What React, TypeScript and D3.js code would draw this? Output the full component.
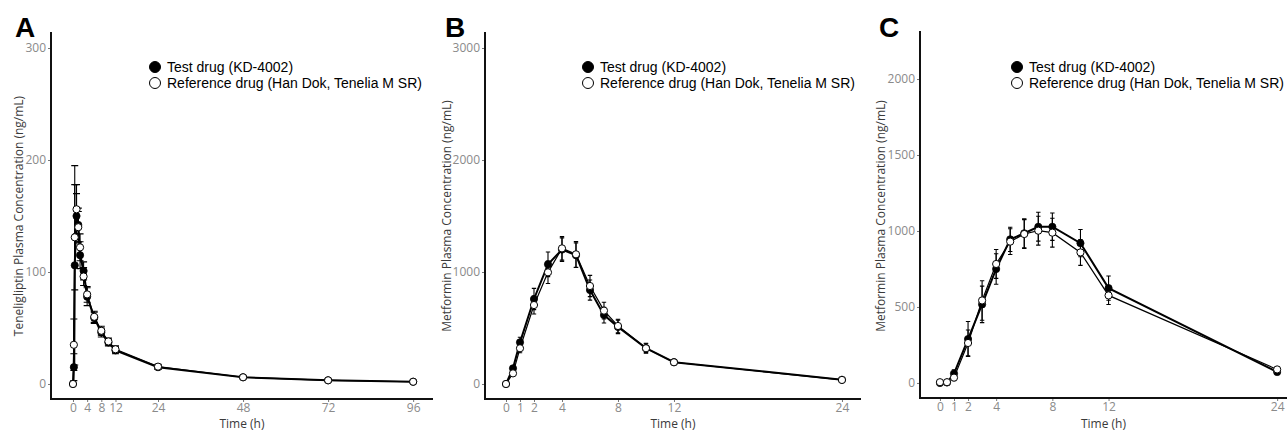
import { useEffect, useRef } from 'react'
import * as d3 from 'd3'

// ── Panel A: teneligliptin ──
const aTime = [0, 0.25, 0.5, 1, 1.5, 2, 3, 4, 6, 8, 10, 12, 24, 48, 72, 96]
const aTest = [0, 15, 106, 150, 142, 115, 101, 78, 59, 46, 37, 30, 15, 6, 3.3, 2]
const aTestSd = [0, 12, 89, 20, 15, 12, 8, 8, 5, 4, 3, 3, 2, 1, 0.8, 0.5]
const aRef = [0, 35, 131, 156, 140, 122, 96, 80, 60, 47.5, 38, 31, 15.5, 6, 3.3, 2]
const aRefSd = [0, 23, 47, 22, 14, 12, 8, 7, 5, 4, 3, 3, 2, 1, 0.8, 0.5]
const aXTicks = [0, 4, 8, 12, 24, 48, 72, 96]
const aYTicks = [0, 100, 200, 300]

// ── Panel B: metformin ──
const bTime = [0, 0.5, 1, 2, 3, 4, 5, 6, 7, 8, 10, 12, 24]
const bTest = [0, 140, 372, 759, 1069, 1200, 1150, 839, 615, 510, 320, 195, 38]
const bTestSd = [0, 20, 45, 95, 110, 105, 110, 90, 70, 60, 40, 20, 8]
const bRef = [0, 95, 319, 705, 997, 1211, 1158, 875, 655, 518, 319, 194, 36]
const bRefSd = [0, 15, 40, 80, 100, 105, 115, 95, 75, 60, 45, 20, 8]
const bXTicks = [0, 1, 2, 4, 8, 12, 24]
const bYTicks = [0, 1000, 2000, 3000]

// ── Panel C: metformin ──
const cTime = [0, 0.5, 1, 2, 3, 4, 5, 6, 7, 8, 10, 12, 24]
const cTest = [0, 3, 62, 289, 517, 750, 945, 985, 1028, 1028, 920, 624, 72]
const cTestSd = [0, 3, 25, 115, 120, 100, 80, 95, 95, 90, 90, 80, 15]
const cRef = [5, 5, 35, 263, 543, 783, 930, 980, 1002, 989, 859, 576, 89]
const cRefSd = [0, 3, 20, 85, 130, 95, 85, 95, 95, 95, 85, 60, 15]
const cXTicks = [0, 1, 2, 4, 8, 12, 24]
const cYTicks = [0, 500, 1000, 1500, 2000]

const legendTest = 'Test drug (KD-4002)'
const legendRef = 'Reference drug (Han Dok, Tenelia M SR)'

const panels = [
  { letter: 'A', ylab: 'Teneligliptin Plasma Concentration (ng/mL)', time: aTime, test: aTest, testSd: aTestSd, ref: aRef, refSd: aRefSd,
    xTicks: aXTicks, yTicks: aYTicks, xDom: [-6.2, 101.6], yDom: [-13.4, 314.3],
    box: { l: 51, r: 433, t: 32, b: 399 }, cap: 3.5, letterX: 15, ylabX: 19, legX: 155 },
  { letter: 'B', ylab: 'Metformin Plasma Concentration (ng/mL)', time: bTime, test: bTest, testSd: bTestSd, ref: bRef, refSd: bRefSd,
    xTicks: bXTicks, yTicks: bYTicks, xDom: [-1.5, 25.36], yDom: [-134, 3143],
    box: { l: 485, r: 861, t: 32, b: 399 }, cap: 2.2, letterX: 445, ylabX: 447, legX: 588 },
  { letter: 'C', ylab: 'Metformin Plasma Concentration (ng/mL)', time: cTime, test: cTest, testSd: cTestSd, ref: cRef, refSd: cRefSd,
    xTicks: cXTicks, yTicks: cYTicks, xDom: [-1.42, 24.7], yDom: [-99, 2316],
    box: { l: 920, r: 1287, t: 31, b: 398 }, cap: 2.2, letterX: 879, ylabX: 881, legX: 1017 },
]

const W = 1287, H = 430
const TICK_FONT = '"Open Sans", sans-serif'
const LEG_FONT = '"Liberation Sans", Arial, sans-serif'

export default function App() {
  const svgRef = useRef<SVGSVGElement>(null)

  useEffect(() => {
    const svg = d3.select(svgRef.current)
    svg.selectAll('*').remove()
    svg.append('rect').attr('width', W).attr('height', H).attr('fill', '#fff')

    for (const p of panels) {
      const { box } = p
      const x = d3.scaleLinear().domain(p.xDom).range([box.l, box.r])
      const y = d3.scaleLinear().domain(p.yDom).range([box.b, box.t])
      const g = svg.append('g')

      // axes (ticks + labels)
      g.append('g').attr('transform', `translate(${box.l},0)`)
        .call(d3.axisLeft(y).tickValues(p.yTicks).tickSize(3).tickPadding(2).tickFormat(d3.format('d')))
        .call(a => {
          a.select('.domain').remove()
          a.selectAll('.tick line').attr('stroke', '#777')
          a.selectAll('.tick text').attr('fill', '#8a8a8a').attr('font-size', 12).attr('font-family', TICK_FONT)
        })
      g.append('g').attr('transform', `translate(0,${box.b})`)
        .call(d3.axisBottom(x).tickValues(p.xTicks).tickSize(3).tickPadding(1).tickFormat(d3.format('d')))
        .call(a => {
          a.select('.domain').remove()
          a.selectAll('.tick line').attr('stroke', '#777')
          a.selectAll('.tick text').attr('fill', '#8a8a8a').attr('font-size', 12).attr('font-family', TICK_FONT)
        })
      // L-shaped frame
      g.append('path').attr('d', `M${box.l},${box.t}V${box.b}H${box.r}`)
        .attr('fill', 'none').attr('stroke', '#111').attr('stroke-width', 2)

      // titles
      g.append('text').attr('x', (box.l + box.r) / 2).attr('y', 427.5).attr('text-anchor', 'middle')
        .attr('font-family', TICK_FONT).attr('font-size', 12).attr('fill', '#3a3a3a').text('Time (h)')
      g.append('text').attr('transform', `translate(${p.ylabX},216) rotate(-90)`).attr('text-anchor', 'middle')
        .attr('dy', '0.35em').attr('font-family', TICK_FONT).attr('font-size', 12).attr('fill', '#3a3a3a').text(p.ylab)
      g.append('text').attr('x', p.letterX).attr('y', 37).attr('font-family', LEG_FONT).attr('font-weight', 700)
        .attr('font-size', 28).attr('fill', '#000').text(p.letter)

      // legend
      const leg = g.append('g')
      ;[[legendTest, '#000', 67], [legendRef, '#fff', 83]].forEach(([label, fill, ly]) => {
        leg.append('circle').attr('cx', p.legX).attr('cy', ly as number).attr('r', 5.5)
          .attr('fill', fill as string).attr('stroke', '#000').attr('stroke-width', 1)
        leg.append('text').attr('x', p.legX + 12).attr('y', (ly as number) + 5).attr('font-family', LEG_FONT)
          .attr('font-size', 14).attr('fill', '#000').text(label as string)
      })

      const rows = p.time.map((t, i) => ({ t, test: p.test[i], testSd: p.testSd[i], ref: p.ref[i], refSd: p.refSd[i] }))

      const lineTest = d3.line<any>().x(d => x(d.t)).y(d => y(d.test))
      const lineRef = d3.line<any>().x(d => x(d.t)).y(d => y(d.ref))
      g.append('path').datum(rows).attr('d', lineTest).attr('fill', 'none').attr('stroke', '#000').attr('stroke-width', 2)
      g.append('path').datum(rows).attr('d', lineRef).attr('fill', 'none').attr('stroke', '#000').attr('stroke-width', 1.2)

      // error bars
      for (const [key, sd] of [['test', 'testSd'], ['ref', 'refSd']]) {
        const eb = g.append('g').attr('stroke', '#000').attr('stroke-width', 1.1).attr('fill', 'none')
        eb.selectAll('path').data(rows.filter(d => d[sd] > 0)).join('path')
          .attr('d', (d: any) => {
            const cx = x(d.t), y1 = y(d[key] + d[sd]), y0 = y(d[key] - d[sd])
            return `M${cx},${y0}V${y1}M${cx - p.cap},${y1}H${cx + p.cap}M${cx - p.cap},${y0}H${cx + p.cap}`
          })
      }

      // points
      g.append('g').selectAll('circle').data(rows).join('circle')
        .attr('cx', d => x(d.t)).attr('cy', d => y(d.test)).attr('r', 3.6)
        .attr('fill', '#000').attr('stroke', '#000').attr('stroke-width', 0.8)
      g.append('g').selectAll('circle').data(rows).join('circle')
        .attr('cx', d => x(d.t)).attr('cy', d => y(d.ref)).attr('r', 3.6)
        .attr('fill', '#fff').attr('stroke', '#000').attr('stroke-width', 1)
    }
  }, [])

  return (
    <svg ref={svgRef} width={W} height={H}
      style={{ position: 'absolute', left: 0, top: 0, display: 'block' }} />
  )
}
